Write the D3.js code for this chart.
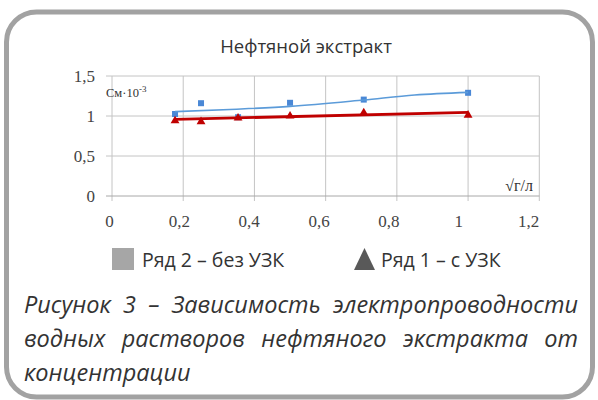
<!DOCTYPE html>
<html><head><meta charset="utf-8">
<script src="https://cdnjs.cloudflare.com/ajax/libs/d3/7.8.5/d3.min.js"></script>
<style>body{margin:0;background:#fff}svg{display:block}</style>
</head><body>
<svg id="c" width="598" height="400"></svg>
<script>
const xValues = [0.177, 0.25, 0.354, 0.5, 0.707, 1];
const series2 = [1.025, 1.16, 0.985, 1.165, 1.205, 1.29];   // Ряд 2 – без УЗК
const series1 = [0.94, 0.93, 0.975, 1.0, 1.04, 1.01];       // Ряд 1 – с УЗК
const trend2X = [0.177, 0.35, 0.5, 0.707, 0.85, 1];
const trend2Y = [1.055, 1.085, 1.12, 1.2, 1.262, 1.295];
const trend1X = [0.177, 1];
const trend1Y = [0.957, 1.046];
const xTicks = [0, 0.2, 0.4, 0.6, 0.8, 1, 1.2];
const yTicks = [0, 0.5, 1, 1.5];
const titleText = "Нефтяной экстракт";
const legendLabels = ["Ряд 2 – без УЗК", "Ряд 1 – с УЗК"];
const captionLines = ["Рисунок 3 – Зависимость электропроводности", "водных растворов нефтяного экстракта от", "концентрации"];

const svg = d3.select("#c");
const fmt = d => String(d).replace(".", ",");

svg.append("rect").attr("x", 6.5).attr("y", 12).attr("width", 586).attr("height", 385)
  .attr("rx", 30).attr("fill", "#fff").attr("stroke", "#a2a2a2").attr("stroke-width", 5);

const x = d3.scaleLinear().domain([0, 1.2]).range([112, 539.3]);
const xLab = d3.scaleLinear().domain([0, 1.2]).range([109, 528]);
const y = d3.scaleLinear().domain([0, 1.5]).range([196, 76]);

// grid
const g = svg.append("g");
g.selectAll(".vg").data(xTicks).join("line")
  .attr("x1", d => x(d)).attr("x2", d => x(d)).attr("y1", y(1.5)).attr("y2", y(0) + 5)
  .attr("stroke", "#c4c4c4").attr("stroke-width", 1);
g.selectAll(".hg").data(yTicks).join("line")
  .attr("x1", x(0) - 6).attr("x2", x(1.2)).attr("y1", d => y(d)).attr("y2", d => y(d))
  .attr("stroke", d => d === 0 ? "#a8a8a8" : "#c4c4c4").attr("stroke-width", 1);

// axes labels
const xa = svg.append("g").attr("transform", "translate(0,212)")
  .call(d3.axisBottom(xLab).tickValues(xTicks).tickFormat(fmt).tickSize(0));
xa.select(".domain").remove();
xa.selectAll("text").attr("font-family", "Liberation Serif").attr("font-size", 17).attr("fill", "#444");
const ya = svg.append("g").attr("transform", "translate(100,0)")
  .call(d3.axisLeft(y).tickValues(yTicks).tickFormat(fmt).tickSize(0));
ya.select(".domain").remove();
ya.selectAll("text").attr("font-family", "Liberation Serif").attr("font-size", 17).attr("fill", "#444").attr("dx", -2);

// unit labels
const u = svg.append("text").attr("x", 106).attr("y", 97).attr("font-family", "Liberation Serif")
  .attr("font-size", 12.5).attr("fill", "#333");
u.append("tspan").text("См·10");
u.append("tspan").attr("dy", -5).attr("font-size", 9).text("-3");
svg.append("text").attr("x", 533).attr("y", 191).attr("text-anchor", "end")
  .attr("font-family", "Liberation Serif").attr("font-size", 16).attr("fill", "#333").text("√г/л");

// series 2 markers (under)
svg.selectAll(".sq").data(xValues.map((d, i) => [d, series2[i]])).join("rect")
  .attr("x", d => x(d[0]) - 3).attr("y", d => y(d[1]) - 3).attr("width", 6).attr("height", 6)
  .attr("fill", "#4a88d6");
// series 1 triangles
const tri = d3.symbol().type(d3.symbolTriangle).size(34);
svg.selectAll(".tr").data(xValues.map((d, i) => [d, series1[i]])).join("path")
  .attr("d", tri).attr("transform", d => `translate(${x(d[0])},${y(d[1])})`).attr("fill", "#c00000");

// trendlines
const line = d3.line().x(d => x(d[0])).y(d => y(d[1]));
svg.append("path").datum(trend2X.map((d, i) => [d, trend2Y[i]]))
  .attr("d", line.curve(d3.curveMonotoneX)).attr("fill", "none").attr("stroke", "#5b9bd9").attr("stroke-width", 1.6);
svg.append("path").datum(trend1X.map((d, i) => [d, trend1Y[i]]))
  .attr("d", d3.line().x(d => x(d[0])).y(d => y(d[1]))).attr("fill", "none").attr("stroke", "#c00000").attr("stroke-width", 2.8);

// title
svg.append("text").attr("x", 306).attr("y", 53).attr("text-anchor", "middle")
  .attr("font-family", "Open Sans").attr("font-size", 18.5).attr("fill", "#333").text(titleText);

// legend
svg.append("rect").attr("x", 112).attr("y", 248).attr("width", 22).attr("height", 22).attr("fill", "#a6a6a6");
svg.append("text").attr("x", 142).attr("y", 266.5).attr("font-family", "Open Sans").attr("font-size", 19.5)
  .attr("fill", "#333").text(legendLabels[0]);
svg.append("path").attr("d", "M354,270L375,270L364.5,248Z").attr("fill", "#595959");
svg.append("text").attr("x", 381).attr("y", 266.5).attr("font-family", "Open Sans").attr("font-size", 19.5)
  .attr("fill", "#333").text(legendLabels[1]);

// caption (justified)
const capL = 24, capR = 578, base = [313, 347, 381];
captionLines.forEach((ln, li) => {
  const words = ln.split(" ");
  const ts = words.map(w => svg.append("text").attr("y", base[li]).attr("font-family", "Open Sans")
    .attr("font-style", "italic").attr("font-size", 23.5).attr("fill", "#333").text(w));
  const ws = ts.map(t => t.node().getComputedTextLength());
  const justify = li < captionLines.length - 1;
  const total = d3.sum(ws);
  const gap = justify ? (capR - capL - total) / (words.length - 1) : 6;
  let cx = capL;
  ts.forEach((t, i) => { t.attr("x", cx); cx += ws[i] + gap; });
});
</script>
</body></html>
